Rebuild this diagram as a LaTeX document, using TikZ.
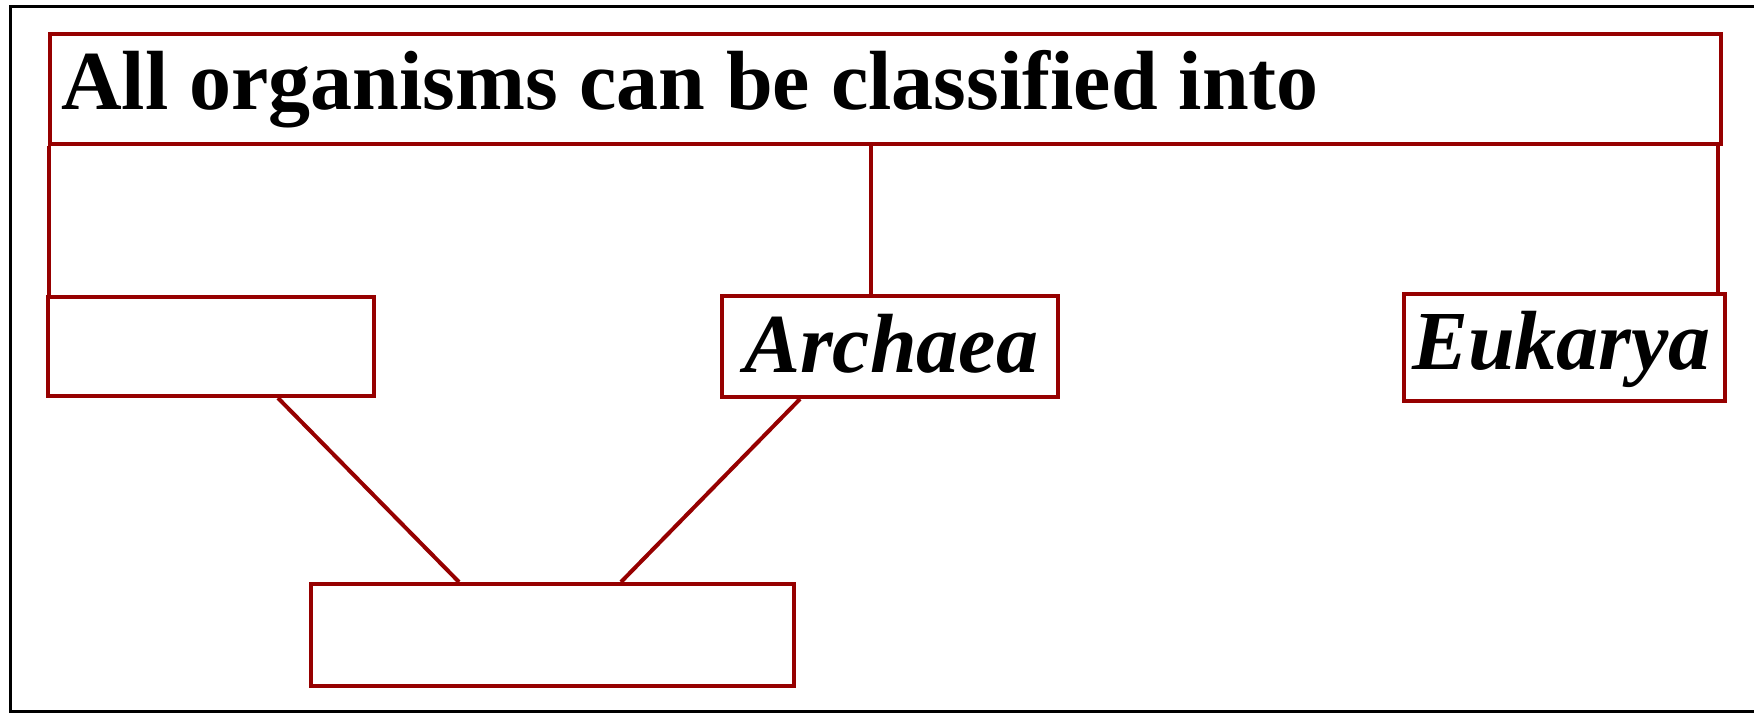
\documentclass[tikz,border=0pt]{standalone}
\usepackage{fontspec}
\setmainfont{Liberation Serif}
\definecolor{boxred}{RGB}{150,0,0}
\begin{document}
\begin{tikzpicture}[x=1bp,y=-1bp,
  box/.style={draw=boxred, line width=4bp, rectangle, inner sep=0pt, anchor=north west},
  conn/.style={draw=boxred, line width=4bp},
  lab/.style={font=\fontsize{84bp}{100bp}\selectfont\bfseries, inner sep=0pt, anchor=base west}]
\useasboundingbox (0,0) rectangle (1754,713);
\draw[line width=3bp] (1760,7) -- (10,7) -- (10,711.5) -- (1760,711.5);
\node[box, minimum width=1671bp, minimum height=110bp] (title) at (48,32) {};
\node[lab] (tt) at (61,110) {All organisms can be classified into};
\node[box, minimum width=326bp, minimum height=99bp] (b1) at (46,295) {};
\node[box, minimum width=336bp, minimum height=101bp] (arch) at (720,294) {};
\node[lab] (archt) at (744,372) {\itshape Archaea};
\node[box, minimum width=321bp, minimum height=107bp] (euk) at (1402,292) {};
\node[lab] (eukt) at (1412,369) {\itshape Eukarya};
\node[box, minimum width=483bp, minimum height=102bp] (b2) at (309,582) {};
\coordinate (xl) at (49,0);
\coordinate (xm) at (871,0);
\coordinate (xr) at (1718,0);
\draw[conn] (title.south -| xl) -- (b1.north -| xl);
\draw[conn] (title.south -| xm) -- (arch.north -| xm);
\draw[conn] (title.south -| xr) -- (euk.north -| xr);
\coordinate (d1) at (278,0);
\coordinate (d2) at (459,0);
\coordinate (d3) at (800,0);
\coordinate (d4) at (621,0);
\draw[conn] (b1.south -| d1) -- (b2.north -| d2);
\draw[conn] (arch.south -| d3) -- (b2.north -| d4);
\end{tikzpicture}
\end{document}
